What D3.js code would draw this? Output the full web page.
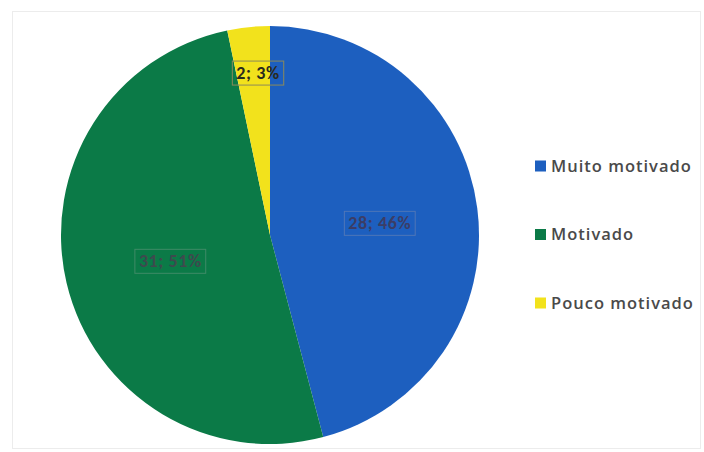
<!DOCTYPE html>
<html><head><meta charset="utf-8">
<script src="https://cdn.jsdelivr.net/npm/d3@7"></script>
<style>body{margin:0;background:#fff}svg{display:block}</style>
</head><body>
<svg id="c" width="704" height="452"></svg>
<script>
const categories = ["Muito motivado", "Motivado", "Pouco motivado"];
const values = [28, 31, 2];
const percents = ["46%", "51%", "3%"];
const colors = ["#1d5fbf", "#0b7a47", "#f2e21c"];

const svg = d3.select("#c");
svg.append("rect").attr("x", 12.5).attr("y", 11.5).attr("width", 688).attr("height", 437)
  .attr("fill", "#fff").attr("stroke", "#ececec");

const cx = 270, cy = 235, r = 209;
const pie = d3.pie().sort(null).value(d => d)(values);
const arc = d3.arc().innerRadius(0).outerRadius(r);
const g = svg.append("g").attr("transform", `translate(${cx},${cy})`);
g.selectAll("path").data(pie).enter().append("path")
  .attr("d", arc).attr("fill", (d, i) => colors[i]);

const labelR = [0.52, 0.5, 0.79];
const textCol = ["#3b3d66", "#3d4a4e", "#2a2a1e"];
const boxCol = ["#4f76b8", "#3f8a66", "#8c8a5a"];
pie.forEach((d, i) => {
  const la = d3.arc().innerRadius(r * labelR[i]).outerRadius(r * labelR[i]);
  const [x, y] = la.centroid(d);
  const t = g.append("text").attr("x", x + (i === 2 ? 5 : 2)).attr("y", y + 2).attr("text-anchor", "middle")
    .attr("dy", "0.35em").attr("font-family", "Carlito, Calibri, 'Liberation Sans', sans-serif")
    .attr("font-size", 18).attr("font-weight", "bold").attr("letter-spacing", 0.6).attr("fill", textCol[i])
    .text(values[i] + "; " + percents[i]);
  const b = t.node().getBBox();
  g.insert("rect", "text:last-of-type").attr("x", b.x - 4).attr("y", b.y - 1)
    .attr("width", b.width + 8).attr("height", b.height + 2)
    .attr("fill", "none").attr("stroke", boxCol[i]).attr("stroke-width", 1);
});

const leg = svg.append("g");
const ly = d3.scalePoint().domain(categories).range([166, 303]);
categories.forEach((c, i) => {
  leg.append("rect").attr("x", 535).attr("y", ly(c) - 5.5).attr("width", 11).attr("height", 11)
    .attr("fill", colors[i]);
  leg.append("text").attr("x", 551).attr("y", ly(c)).attr("dy", "0.36em")
    .attr("font-family", "'Open Sans', 'Noto Sans', sans-serif").attr("font-size", 16.5)
    .attr("font-weight", 600).attr("letter-spacing", 1)
    .attr("fill", "#4a4a4a").text(c);
});
</script>
</body></html>
